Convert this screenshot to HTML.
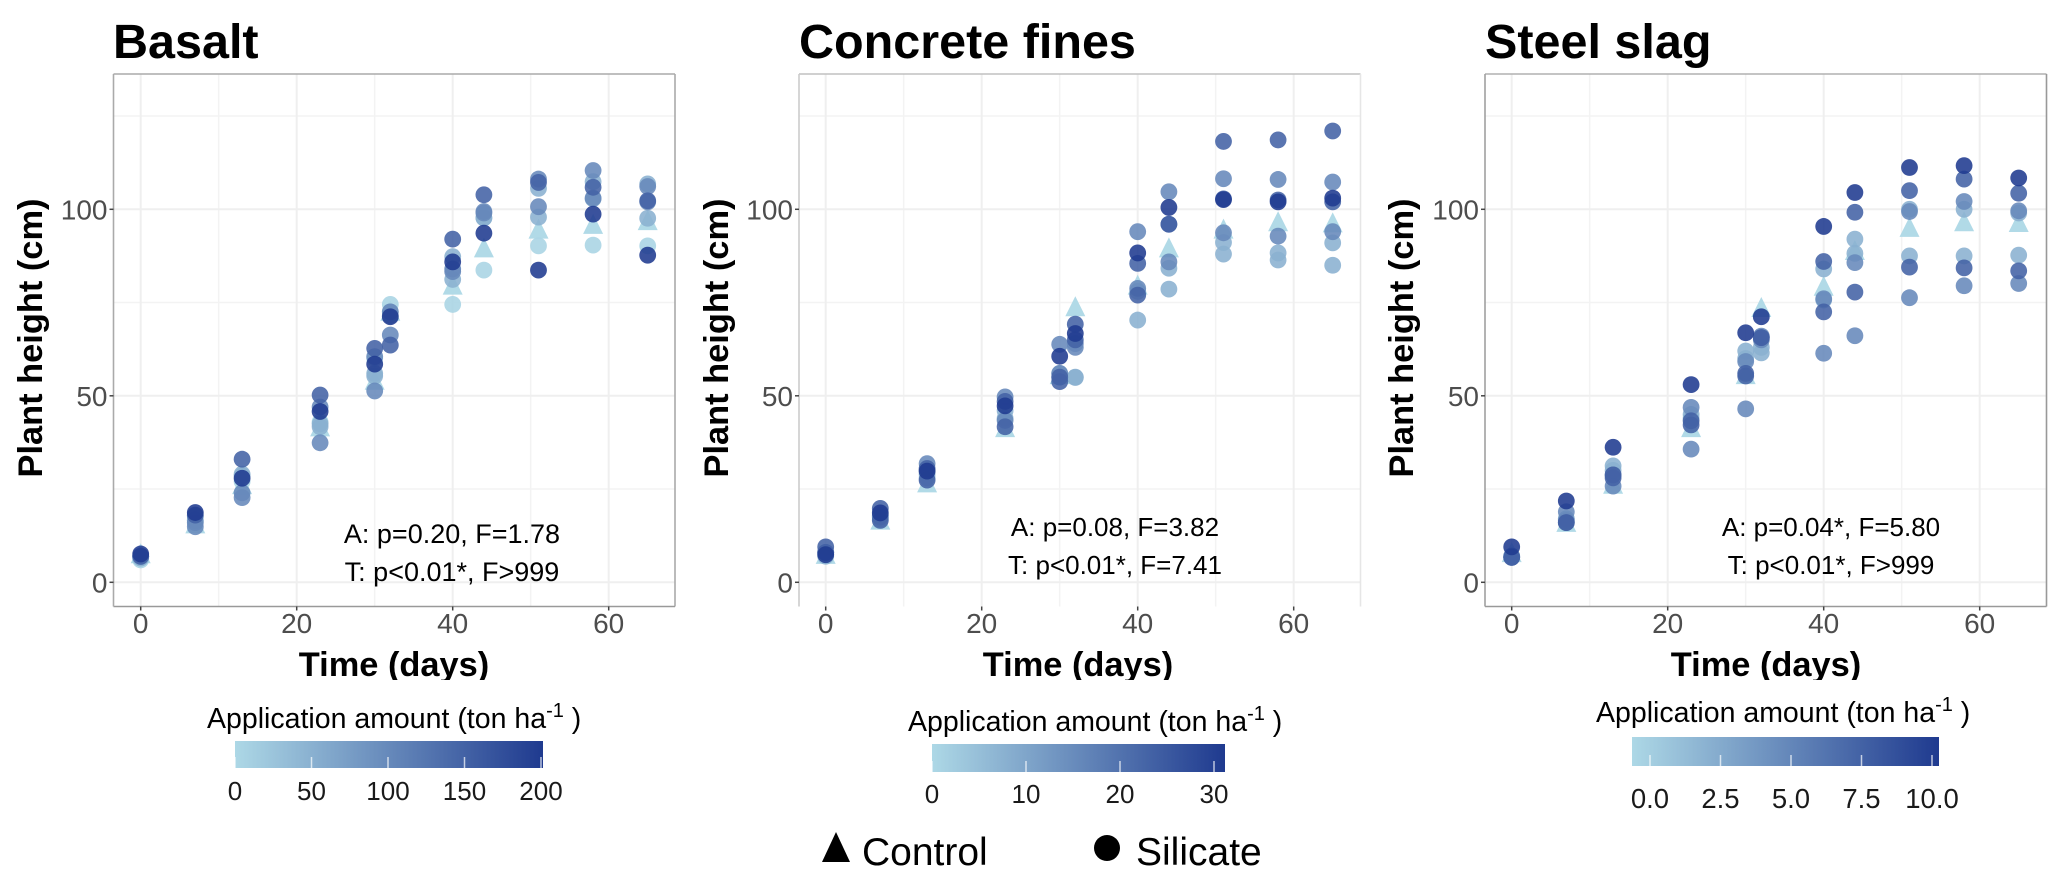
<!DOCTYPE html>
<html lang="en">
<head>
<meta charset="utf-8">
<title>Plant height over time by silicate application</title>
<style>
html,body{margin:0;padding:0;background:#fff;}
svg{display:block;font-family:"Liberation Sans",Arial,sans-serif;}
.title{font-size:48.5px;font-weight:bold;fill:#000;}
.axt{font-size:34.4px;font-weight:bold;fill:#000;text-anchor:middle;}
.tick{font-size:28px;fill:#4d4d4d;}
.ann{font-size:26px;fill:#000;text-anchor:middle;}
.ann-lg{font-size:27px;}
.cbt{font-size:28.5px;fill:#000;}
.cbl{font-size:26px;fill:#1a1a1a;text-anchor:middle;}
.cbl-lg{font-size:27.5px;}
.leg{font-size:39px;fill:#000;}
</style>
</head>
<body>
<svg id="figure" xmlns="http://www.w3.org/2000/svg" width="2067" height="887" viewBox="0 0 2067 887">
<defs>
<linearGradient id="cbgrad" x1="0" x2="1" y1="0" y2="0"><stop offset="0" stop-color="#add8e6"/><stop offset="1" stop-color="#1f3a8f"/></linearGradient>
<clipPath id="page-clip-a"><rect x="0" y="0" width="2067" height="680"/></clipPath>
</defs>

<text class="title" x="113" y="58">Basalt</text>
<text class="title" x="799" y="58">Concrete fines</text>
<text class="title" x="1485" y="58">Steel slag</text>

<g id="panel-a"></g>
<g id="panel-b"></g>
<g id="panel-c"></g>

<g clip-path="url(#page-clip-a)">
<text class="axt" x="394" y="676">Time (days)</text>
<text class="axt" x="1078" y="676">Time (days)</text>
<text class="axt" x="1766" y="676">Time (days)</text>
</g>
<text class="axt" transform="translate(42,338) rotate(-90)">Plant height (cm)</text>
<text class="axt" transform="translate(728,338) rotate(-90)">Plant height (cm)</text>
<text class="axt" transform="translate(1413,338) rotate(-90)">Plant height (cm)</text>

<text class="ann ann-lg" x="452" y="543">A: p=0.20, F=1.78</text>
<text class="ann ann-lg" x="452" y="581">T: p&lt;0.01*, F&gt;999</text>
<text class="ann" x="1115" y="536">A: p=0.08, F=3.82</text>
<text class="ann" x="1115" y="574">T: p&lt;0.01*, F=7.41</text>
<text class="ann" x="1831" y="536">A: p=0.04*, F=5.80</text>
<text class="ann" x="1831" y="574">T: p&lt;0.01*, F&gt;999</text>

<text class="cbt" x="207" y="728">Application amount (ton ha<tspan dy="-11" font-size="20">-1</tspan><tspan dy="11"> )</tspan></text>
<text class="cbt" x="908" y="731">Application amount (ton ha<tspan dy="-11" font-size="20">-1</tspan><tspan dy="11"> )</tspan></text>
<text class="cbt" x="1596" y="722">Application amount (ton ha<tspan dy="-11" font-size="20">-1</tspan><tspan dy="11"> )</tspan></text>

<g id="cb-a"></g>
<g id="cb-b"></g>
<g id="cb-c"></g>

<g>
<polygon points="822,862 836,832 850,862" fill="#000"/>
<text class="leg" x="862" y="865">Control</text>
<circle cx="1107" cy="848" r="13" fill="#000"/>
<text class="leg" x="1136" y="865">Silicate</text>
</g>
</svg>

<script>
const days = [0, 7, 13, 23, 30, 32, 40, 44, 51, 58, 65];
const xTicks = [0, 20, 40, 60];
const xMinor = [10, 30, 50];
const yTicks = [0, 50, 100];
const yMinor = [25, 75, 125];

const basaltControl = [7, 15, 25.5, 41, 53.5, 72, 79, 89, 94, 95.3, 96.3];
const basaltAmounts = [5, 50, 50, 100, 100, 150, 200];
const basaltHeights = [
  [6, 17.6, 27, 43, 60, 74.5, 74.5, 83.7, 90.2, 90.4, 90.2],
  [6.5, 16.7, 29, 41.7, 55.3, 72.5, 81.2, 97.7, 97.9, 102.8, 97.6],
  [7, 16.5, 28.5, 42.5, 56, 71.5, 87.3, 97.7, 105.6, 107.4, 106.8],
  [6.9, 14.9, 22.7, 37.4, 51.3, 66.3, 83.3, 99.4, 100.7, 110.4, 106.1],
  [7, 16, 24, 47, 60.5, 72.5, 84, 99, 108.1, 103, 102],
  [7, 18, 33, 50.2, 62.7, 63.6, 92, 103.9, 107.2, 105.9, 102.3],
  [7.6, 18.7, 27.9, 45.8, 58.5, 71.2, 85.9, 93.6, 83.7, 98.7, 87.7]
];
const basaltBarTicks = [0, 50, 100, 150, 200];

const concreteControl = [6.8, 16, 26, 40.8, 55, 73.2, 79, 89, 94, 96, 95.7];
const concreteAmounts = [7.5, 7.5, 15, 15, 22.5, 22.5, 30];
const concreteHeights = [
  [7, 17, 28, 44, 55, 54.9, 70.3, 78.6, 88, 86.4, 85],
  [7.5, 17.5, 29, 46, 56, 55, 78, 84.2, 91.1, 88.3, 91],
  [8, 17.5, 31.8, 49.7, 63.8, 63, 78.8, 85.9, 93.7, 92.8, 94],
  [8, 18, 30, 43.4, 56, 64, 94, 104.7, 108.2, 108, 107.3],
  [9.5, 19.8, 30.5, 48.5, 55, 65, 85.5, 96, 102.8, 102.5, 102],
  [8, 16.6, 27.4, 41.7, 53.8, 69.2, 77, 96, 118.2, 118.6, 121],
  [7.4, 18.6, 29.8, 47.3, 60.6, 66.7, 88.3, 100.5, 102.6, 102, 103]
];
const concreteBarTicks = [0, 10, 20, 30];

const steelControl = [7.3, 15.4, 25.6, 40.8, 55, 73, 78.7, 88.3, 94.5, 96, 95.8];
const steelAmounts = [2.5, 2.5, 5, 5, 7.5, 7.5, 10];
const steelHeights = [
  [7, 17, 31.2, 44, 62, 61.5, 75.7, 92, 100, 100, 99],
  [7, 17, 30, 45, 60, 63, 84, 88.2, 87.5, 87.5, 87.7],
  [7, 18.9, 28.8, 46.9, 59.2, 65, 76, 85.7, 99.4, 102.1, 99.6],
  [6.7, 16.5, 25.8, 35.7, 46.5, 66, 61.4, 66.1, 76.3, 79.5, 80.1],
  [6.7, 16, 28.8, 43.3, 55.3, 65.6, 72.5, 77.8, 84.5, 84.3, 83.5],
  [6.7, 16, 28, 42.2, 56, 65.6, 86, 99.2, 105, 108.1, 104.3],
  [9.5, 21.8, 36.2, 53, 66.9, 71.2, 95.4, 104.5, 111.2, 111.7, 108.4]
];
const steelBarTicks = [0, 2.5, 5, 7.5, 10];

const NS = 'http://www.w3.org/2000/svg';
function mk(parent, tag, attrs, text) {
  const el = document.createElementNS(NS, tag);
  for (const k in attrs) el.setAttribute(k, attrs[k]);
  if (text !== undefined) el.textContent = text;
  parent.appendChild(el);
  return el;
}
function amountColor(t) {
  const a = [173, 216, 230], b = [31, 58, 143];
  return 'rgb(' + a.map(function (v, i) { return Math.round(v + (b[i] - v) * t); }).join(',') + ')';
}

function drawPanel(cfg) {
  const g = document.getElementById(cfg.id);
  const sx = function (d) { return cfg.x0 + d * 7.8; };
  const sy = function (v) { return 582.3 - v * 3.73; };
  const L = cfg.left, R = cfg.left + 561.5, T = 74, B = 606.5;

  mk(g, 'rect', { x: L, y: T, width: R - L, height: B - T, fill: '#fff' });
  xMinor.forEach(function (d) {
    const el = mk(g, 'line', { x1: sx(d), x2: sx(d), y1: T, y2: B, stroke: '#f3f3f3', 'stroke-width': 1.5 });
    
    
  });
  yMinor.forEach(function (v) {
    const el = mk(g, 'line', { x1: L, x2: R, y1: sy(v), y2: sy(v), stroke: '#f3f3f3', 'stroke-width': 1.5 });
    
    
  });
  xTicks.forEach(function (d) {
    const el = mk(g, 'line', { x1: sx(d), x2: sx(d), y1: T, y2: B, stroke: '#efefef', 'stroke-width': 2 });
    
    
  });
  yTicks.forEach(function (v) {
    const el = mk(g, 'line', { x1: L, x2: R, y1: sy(v), y2: sy(v), stroke: '#efefef', 'stroke-width': 2 });
    
    
  });

  const tm = mk(g, 'g', {});
  
  
  cfg.control.forEach(function (v, i) {
    const cx = sx(days[i]), cy = sy(v);
    const pts = (cx - 10) + ',' + (cy + 7) + ' ' + cx + ',' + (cy - 13) + ' ' + (cx + 10) + ',' + (cy + 7);
    const el = mk(tm, 'polygon', { points: pts, fill: '#add8e6', 'fill-opacity': 0.95 });
    
    
  });

  cfg.heights.forEach(function (series, s) {
    const sg = mk(g, 'g', {});
    
    
    const fill = amountColor(cfg.amounts[s] / cfg.maxAmount);
    series.forEach(function (v, i) {
      const el = mk(sg, 'circle', { cx: sx(days[i]), cy: sy(v), r: 8.4, fill: fill, 'fill-opacity': 0.88 });
      
      
    });
  });

  cfg.borders.forEach(function (b) {
    const coords = { top: [L, T, R, T], right: [R, T, R, B], bottom: [L, B, R, B], left: [L, T, L, B] }[b[0]];
    const el = mk(g, 'line', { x1: coords[0], y1: coords[1], x2: coords[2], y2: coords[3], stroke: b[1], 'stroke-width': 1.6 });
    
    
  });

  xTicks.forEach(function (d) {
    const m = mk(g, 'line', { x1: sx(d), x2: sx(d), y1: B, y2: B + 4, stroke: '#444', 'stroke-width': 1.5 });
    
    
    const el = mk(g, 'text', { x: sx(d), y: 633, class: 'tick', 'text-anchor': 'middle' }, String(d));
    
    
  });
  yTicks.forEach(function (v) {
    const m = mk(g, 'line', { x1: L - 4, x2: L, y1: sy(v), y2: sy(v), stroke: '#444', 'stroke-width': 1.5 });
    
    
    const el = mk(g, 'text', { x: L - 6, y: sy(v) + 10, class: 'tick', 'text-anchor': 'end' }, String(v));
    
    
  });
}

function drawBar(cfg) {
  const g = document.getElementById(cfg.id);
  const bar = mk(g, 'rect', { x: cfg.x, y: cfg.y, width: cfg.w, height: cfg.h, fill: 'url(#cbgrad)' });
  
  
  cfg.ticks.forEach(function (v, i) {
    const px = cfg.p0 + (v / cfg.ticks[cfg.ticks.length - 1]) * (cfg.p1 - cfg.p0);
    const m = mk(g, 'line', { x1: px, x2: px, y1: cfg.y + cfg.h - 11, y2: cfg.y + cfg.h, stroke: '#fff', 'stroke-opacity': 0.7, 'stroke-width': 1.5 });
    
    
    const label = cfg.fixed ? v.toFixed(1) : String(v);
    const el = mk(g, 'text', { x: px, y: cfg.labelY, class: cfg.fixed ? 'cbl cbl-lg' : 'cbl' }, label);
    
    
  });
}

drawPanel({ id: 'panel-a', left: 113.5, x0: 140.7, control: basaltControl, amounts: basaltAmounts, heights: basaltHeights, maxAmount: 200,
  borders: [['top', '#aaaaaa'], ['right', '#aaaaaa'], ['bottom', '#999999'], ['left', '#aaaaaa']] });
drawPanel({ id: 'panel-b', left: 799, x0: 825.7, control: concreteControl, amounts: concreteAmounts, heights: concreteHeights, maxAmount: 30,
  borders: [['top', '#c0c0c0'], ['right', '#e6e6e6'], ['left', '#cccccc']] });
drawPanel({ id: 'panel-c', left: 1485, x0: 1511.7, control: steelControl, amounts: steelAmounts, heights: steelHeights, maxAmount: 10,
  borders: [['top', '#b0b0b0'], ['right', '#999999'], ['bottom', '#999999'], ['left', '#a0a0a0']] });

drawBar({ id: 'cb-a', x: 235, y: 741, w: 308, h: 27, ticks: basaltBarTicks, p0: 235, p1: 541, labelY: 800, fixed: false });
drawBar({ id: 'cb-b', x: 932, y: 744, w: 293, h: 28, ticks: concreteBarTicks, p0: 932, p1: 1214, labelY: 803, fixed: false });
drawBar({ id: 'cb-c', x: 1632, y: 737, w: 307, h: 29, ticks: steelBarTicks, p0: 1650, p1: 1932, labelY: 808, fixed: true });
</script>
</body>
</html>
